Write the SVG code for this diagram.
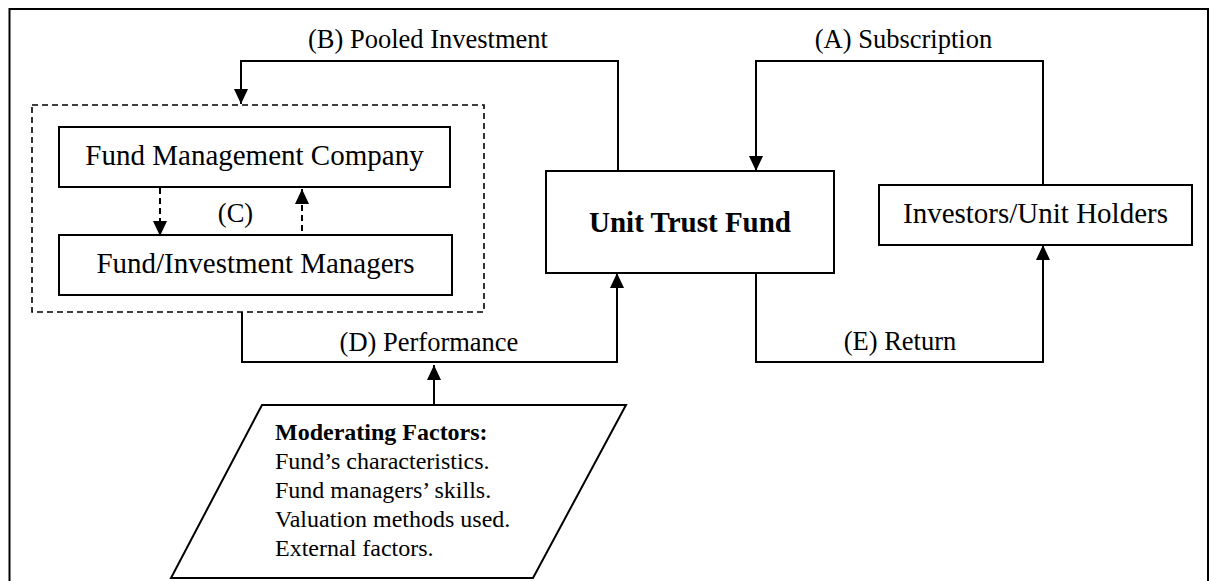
<svg xmlns="http://www.w3.org/2000/svg" width="1214" height="581" viewBox="0 0 1214 581">
<defs>
<style>
.box{fill:#fff;stroke:#000;stroke-width:2}
.conn{fill:none;stroke:#000;stroke-width:2}
.dash{fill:none;stroke:#000;stroke-width:2;stroke-dasharray:6 4}
.lbl{font-family:"Liberation Serif","Times New Roman",serif;font-size:26.5px;fill:#000;text-anchor:middle}
.txt{font-family:"Liberation Serif","Times New Roman",serif;font-size:29px;fill:#000;text-anchor:middle}
.mod{font-family:"Liberation Serif","Times New Roman",serif;font-size:24px;fill:#000}
</style>
<marker id="arr" markerUnits="userSpaceOnUse" markerWidth="15" markerHeight="14" refX="15" refY="7" orient="auto" viewBox="0 0 15 14">
<path d="M0,0 L15,7 L0,14 z" fill="#000"/>
</marker>
</defs>
<rect width="1214" height="581" fill="#fff"/>
<path id="frame" d="M9.5,600 V9 H1208 V600" fill="none" stroke="#000" stroke-width="2"/>

<g id="group-management">
<rect x="32" y="105" width="452" height="207" fill="none" stroke="#000" stroke-width="1.6" stroke-dasharray="6 4"/>
</g>
<g id="fmc">
<rect class="box" x="59" y="127" width="391" height="60"/>
<text class="txt" x="254.5" y="165">Fund Management Company</text>
</g>
<g id="fim">
<rect class="box" x="59" y="235" width="393" height="60"/>
<text class="txt" x="255.5" y="273">Fund/Investment Managers</text>
</g>
<g id="utf">
<rect class="box" x="546" y="171" width="288" height="102"/>
<text class="txt" x="690" y="232" font-weight="bold">Unit Trust Fund</text>
</g>
<g id="investors">
<rect class="box" x="879" y="185" width="313" height="60"/>
<text class="txt" x="1035.5" y="223">Investors/Unit Holders</text>
</g>
<g id="moderating">
<polygon class="box" points="262,405 626,405 533,578 171,578"/>
<text class="mod" x="275" y="440" font-weight="bold">Moderating Factors:</text>
<text class="mod" x="275" y="469">Fund’s characteristics.</text>
<text class="mod" x="275" y="498">Fund managers’ skills.</text>
<text class="mod" x="275" y="527">Valuation methods used.</text>
<text class="mod" x="275" y="556">External factors.</text>
</g>

<g id="connectors">
<path class="conn" d="M618,171 V61 H241 V104" marker-end="url(#arr)"/>
<path class="conn" d="M1043,185 V61 H756 V171" marker-end="url(#arr)"/>
<path class="conn" d="M756,273 V362 H1043 V245" marker-end="url(#arr)"/>
<path class="conn" d="M242,312 V362 H617 V273" marker-end="url(#arr)"/>
<path class="conn" d="M434,405 V365" marker-end="url(#arr)"/>
<path class="dash" d="M160,188 V236" marker-end="url(#arr)"/>
<path class="dash" d="M302,231 V189" marker-end="url(#arr)"/>
<text class="lbl" x="428" y="48">(B) Pooled Investment</text>
<text class="lbl" x="903.5" y="48">(A) Subscription</text>
<text class="lbl" x="235.5" y="222">(C)</text>
<text class="lbl" x="429" y="351">(D) Performance</text>
<text class="lbl" x="900" y="350">(E) Return</text>
</g>
</svg>
